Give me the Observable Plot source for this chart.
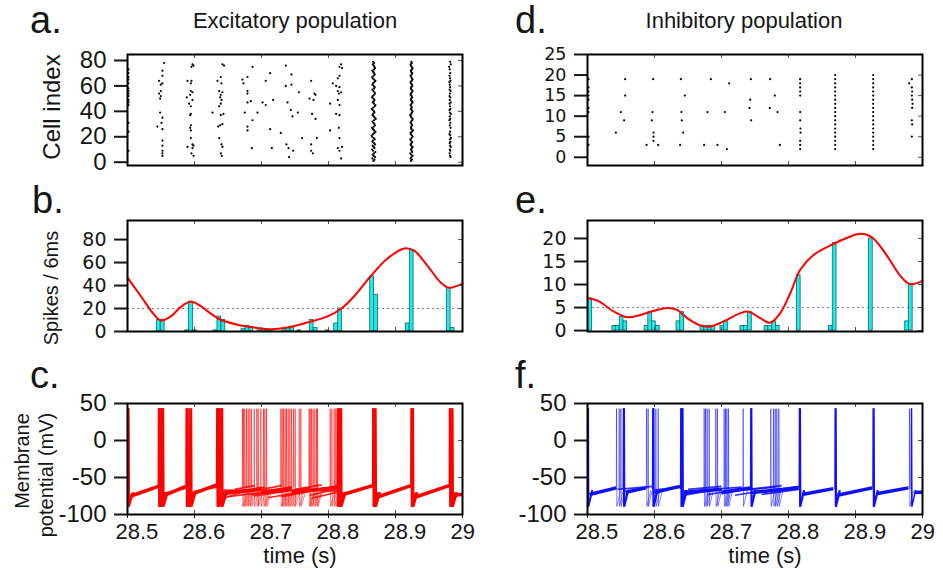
<!DOCTYPE html>
<html><head><meta charset="utf-8">
<script src="https://cdn.jsdelivr.net/npm/d3@7"></script>
<script src="https://cdn.jsdelivr.net/npm/@observablehq/plot@0.6"></script>
<style>
body{margin:0;background:#fff;}
#fig{position:relative;width:943px;height:570px;overflow:hidden;background:#fff;font-family:"Liberation Sans",Arial,Helvetica,sans-serif;color:#161616}
.t{position:absolute;white-space:nowrap;line-height:1}
</style></head><body><div id="fig"></div>
<script>
// ---------- DATA ----------
const timeTicks = [28.5, 28.6, 28.7, 28.8, 28.9, 29];
const innerTimeTicks = [28.6, 28.7, 28.8, 28.9];

// a. Excitatory raster: scattered spikes [time (s), cell index]
const excScatter = [
  [28.5015,73],[28.5015,70],[28.5015,67],[28.5015,65],[28.5015,62],[28.5015,58],[28.5015,56],[28.5015,54],[28.5015,52],[28.5015,49],[28.5015,47],[28.5015,45],[28.5015,31],[28.5015,24],[28.5015,9],
  [28.5547,78],[28.5522,72],[28.5522,68],[28.5472,64],[28.5522,62],[28.5497,61],[28.5497,56],[28.5472,54],[28.5497,52],[28.5487,50],[28.5487,39],[28.5522,35],[28.5507,31],[28.5447,28],[28.5522,26],[28.5522,17],[28.5522,13],[28.5522,9],[28.5522,7],[28.5522,5],
  [28.5970,77],[28.5985,76],[28.5955,75],[28.5895,64],[28.5955,64],[28.5945,62],[28.5945,56],[28.5970,55],[28.5935,53],[28.5885,51],[28.5970,49],[28.5920,46],[28.5945,44],[28.5945,38],[28.5935,37],[28.5945,29],[28.5935,27],[28.5945,25],[28.5945,19],[28.5970,14],[28.5985,13],[28.5895,12],[28.5970,11],[28.5955,7],[28.5985,5],
  [28.6417,77],[28.6442,76],[28.6393,67],[28.6343,64],[28.6403,62],[28.6368,56],[28.6417,55],[28.6393,53],[28.6383,51],[28.6403,49],[28.6393,46],[28.6368,44],[28.6268,39],[28.6432,38],[28.6393,37],[28.6417,30],[28.6383,29],[28.6353,28],[28.6368,19],[28.6403,14],[28.6417,12],[28.6393,7],[28.6407,5],
  [28.6866,75],[28.6791,67],[28.6716,65],[28.6731,62],[28.7129,70],[28.7064,64],[28.6791,56],[28.6791,54],[28.6840,48],[28.6791,47],[28.7015,47],[28.7064,45],[28.7174,49],[28.6751,39],[28.6940,39],[28.6866,33],[28.6791,28],[28.6791,25],[28.7129,26],[28.6855,11],[28.7154,11],
  [28.7363,76],[28.7447,69],[28.7447,61],[28.7363,60],[28.7388,47],[28.7437,41],[28.7463,36],[28.7288,23],[28.7373,14],[28.7403,11],[28.7472,9],[28.7412,4],
  [28.7557,55],[28.7741,64],[28.7716,50],[28.7791,54],[28.7806,53],[28.7776,49],[28.7542,39],[28.7755,38],[28.7806,34],[28.7606,19],[28.7741,14],[28.7826,19],[28.7741,9],[28.7766,7],
  [28.8188,77],[28.8164,75],[28.8203,74],[28.8139,66],[28.8164,68],[28.8064,62],[28.8114,60],[28.8164,59],[28.8139,56],[28.8154,54],[28.8188,55],[28.8024,46],[28.8139,49],[28.8164,45],[28.8114,38],[28.8164,37],[28.8154,27],[28.8024,25],[28.8164,19],[28.8203,12],[28.8139,11],[28.8164,9],[28.8188,3]
];
// synchronous volleys: spike-time offsets (ms) for cells 1..79
const excVolley1Base = 28.8635;
const excVolley1Ms = [3.5,5.0,2.0,6.0,4.0,2.5,4.5,6.5,3.0,1.5,5.0,4.0,2.5,6.0,4.5,2.0,3.0,5.5,4.0,1.5,1.0,3.0,5.0,6.5,4.5,3.0,1.5,4.0,6.0,5.0,3.5,2.0,4.5,7.0,5.5,4.0,2.0,3.0,5.0,4.5,2.5,1.0,3.5,5.5,6.5,4.5,2.5,4.0,5.0,3.5,1.5,2.5,4.5,6.0,5.0,3.5,2.0,4.5,5.5,4.0,2.0,3.0,5.0,6.5,4.5,2.5,1.5,4.0,5.5,4.5,3.5,2.0,4.5,6.0,5.0,4.0,2.5,4.5,3.0];
const excVolley2Base = 28.921;
const excVolley2Ms = [2.0,3.5,1.5,3.0,4.5,2.5,1.0,4.0,3.0,2.0,3.5,4.5,2.5,1.5,3.0,4.0,2.0,1.0,3.0,4.5,3.5,2.0,1.5,3.5,5.0,3.0,2.0,2.5,4.0,3.0,1.5,2.5,4.0,4.5,3.0,2.0,1.0,2.5,3.5,4.5,3.0,2.0,3.5,2.5,1.5,3.0,4.5,3.5,2.0,2.5,4.0,3.0,1.5,2.0,3.5,4.5,3.0,2.0,2.5,4.0,3.5,2.0,1.5,3.0,4.5,3.5,2.5,1.5,3.0,4.0,2.5,2.0,3.5,4.5,3.0,2.0,1.5,3.5,2.5];
const excVolley3Base = 28.978;
const excVolley3 = [[79,3.5],[77,4.5],[75,2.0],[73,3.0],[70,3.8],[68,2.6],[66,3.4],[64,4.0],[63,2.4],[61,3.0],[59,3.6],[57,2.8],[56,4.2],[54,3.2],[52,2.6],[51,3.8],[49,3.0],[47,4.4],[46,2.8],[44,3.4],[42,4.0],[41,2.6],[39,3.2],[38,4.6],[36,3.0],[34,3.6],[33,2.4],[31,3.8],[29,3.0],[27,4.2],[24,3.4],[22,2.6],[21,3.8],[19,4.8],[18,3.2],[16,4.0],[15,2.8],[13,3.6],[12,4.4],[10,3.0],[9,3.8],[7,2.8],[5,3.4],[4,4.2]];

// d. Inhibitory raster
const inhScatter = [
  [28.5015,19],[28.5015,17],[28.5015,16],[28.5015,15],[28.5015,14],[28.5015,12],[28.5015,11],[28.5015,5],[28.5015,3],
  [28.5562,19],[28.5562,15],[28.5498,11],[28.5547,9],[28.5423,6],
  [28.5980,19],[28.5970,11],[28.5960,9],[28.5985,6],[28.5985,5],[28.5985,4],[28.5881,3],[28.6055,3],
  [28.6393,19],[28.6453,15],[28.6403,11],[28.6408,9],[28.6428,6],[28.6383,3],
  [28.6841,19],[28.7114,18],[28.6791,11],[28.7050,11],[28.6741,3],[28.6940,3],[28.7080,2],
  [28.7438,19],[28.7726,19],[28.7428,14],[28.7796,15],[28.7418,12],[28.7721,12],[28.7836,11],[28.7443,9],[28.7871,3],
  [28.8174,19],[28.8174,18],[28.8174,17],[28.8174,16],[28.8174,15],[28.8174,11],[28.8174,9],[28.8179,7],[28.8179,6],[28.8174,4],[28.8174,3],[28.8174,2],
  [28.9841,19],[28.9801,18],[28.9841,17],[28.9846,16],[28.9841,15],[28.9846,14],[28.9851,13],[28.9846,12],[28.9841,9],[28.9846,8],[28.9841,5]
];
const inhVolleyCells = [2,3,4,5,6,7,8,9,10,11,12,13,14,15,16,17,18,19,20];
const inhVolleyTimes = [28.8697, 28.9264];

// b. / e. Histograms (bin start time, spikes per 6 ms) and smoothed rate
const excHistT = [28.5438,28.5498,28.5861,28.5920,28.5980,28.6284,28.6343,28.6403,28.6701,28.6761,28.6820,28.6940,28.7000,28.7060,28.7120,28.7313,28.7373,28.7433,28.7537,28.7721,28.7780,28.7960,28.8085,28.8144,28.8622,28.8682,28.9154,28.9214,28.9766,28.9826];
const excHistN = [10,10,1,26,1,1,13,10,2,5,4,1,2,2,1,2,3,4,1,10,3,1,7,20,48,32,7,71,38,3];
const excRateT = [28.5,28.52,28.5398,28.5498,28.5647,28.5796,28.5945,28.6095,28.6244,28.6393,28.6642,28.689,28.714,28.7388,28.7687,28.7985,28.8184,28.8383,28.8632,28.888,28.913,28.9279,28.9478,28.9677,28.98,29.0];
const excRateV = [46.9,30.7,14.6,9.7,13.2,21.4,25.8,22,15.5,10.2,5.9,3.5,2.0,3.5,7.9,13.2,19.6,30.7,48.3,63.5,72.3,70.3,57.1,42.5,38.1,41.6];
const excThreshold = 20;

const inhHistT = [28.5010,28.5372,28.5422,28.5481,28.5536,28.5853,28.5908,28.5962,28.6022,28.6329,28.6384,28.6687,28.6741,28.6796,28.6850,28.6984,28.7039,28.7282,28.7336,28.7396,28.7644,28.7698,28.7758,28.7812,28.8125,28.8601,28.8661,28.9201,28.9742,28.9797];
const inhHistN = [7,1,1,3,2,1,4,2,1,2,4,1,1,1,1,1,2,1,1,4,1,1,2,1,12,1,19,20,2,10];
const inhRateT = [28.5,28.5149,28.5397,28.5595,28.5794,28.5992,28.619,28.6339,28.6488,28.6687,28.6835,28.7034,28.7282,28.7406,28.7579,28.7728,28.7877,28.8026,28.8175,28.8373,28.8671,28.8869,28.9067,28.9241,28.9464,28.9663,28.9812,29.0];
const inhRateV = [7.0,6.5,4.1,2.9,3.4,4.3,4.9,4.5,2.7,1.1,0.9,2.0,3.8,4.1,2.7,1.7,3.8,8.1,13.2,16.4,18.8,20.1,21.0,20.3,16.4,12.0,10.1,10.8];
const inhThreshold = 5;

// c. / f. Membrane potential: sub-threshold ramps [t0, v0, t1, v1] and spike times
const excMainRamps = [[28.502,-76,28.546,-62],[28.555,-74,28.587,-62],[28.597,-72,28.633,-60],[28.643,-71,28.700,-66],[28.700,-70,28.745,-64],[28.745,-70,28.815,-63],[28.818,-74,28.866,-61],[28.871,-77,28.923,-61],[28.928,-77,28.980,-61],[28.987,-74,29.0,-73]];
const excBandRamps = [[28.555,-71,28.590,-64],[28.598,-69,28.634,-63],[28.643,-74,28.700,-63],[28.650,-76,28.735,-66],[28.672,-70,28.705,-63],[28.685,-74,28.745,-63],[28.705,-72,28.772,-64],[28.710,-77,28.790,-66],[28.745,-71,28.815,-62],[28.772,-74,28.815,-65],[28.643,-67,28.815,-68],[28.643,-78,28.672,-70],[28.660,-66,28.690,-61],[28.690,-75,28.740,-68],[28.700,-66,28.730,-61],[28.730,-76,28.770,-69],[28.750,-66,28.790,-60],[28.775,-78,28.812,-70],[28.790,-68,28.815,-60]];
const excSyncSpikes = [28.5005,28.5012,28.5020,28.5463,28.5472,28.5483,28.5498,28.5510,28.5522,28.5537,28.5876,28.5888,28.5900,28.5920,28.5935,28.5955,28.6333,28.6345,28.6358,28.6373,28.6393,28.6405,28.6418,28.8134,28.8146,28.8158,28.8170,28.8182,28.8194,28.8662,28.8672,28.8684,28.8696,28.8708,28.9232,28.9242,28.9254,28.9266,28.9806,28.9818,28.9830,28.9842,28.9856];
const excSparseSpikes = [28.6716,28.6731,28.6751,28.6776,28.6801,28.6826,28.6851,28.6891,28.6930,28.6950,28.6990,28.7030,28.7050,28.7075,28.7289,28.7308,28.7328,28.7353,28.7373,28.7398,28.7423,28.7448,28.7478,28.7502,28.7562,28.7587,28.7711,28.7726,28.7746,28.7771,28.7796,28.7821,28.7836,28.8025,28.8050,28.8085,28.8109];
const excSpikeDt = [-0.0003, 0, 0.0006, 0.0065];
const excSpikeV = [-63, 43, -89, -71];

const inhMainRamps = [[28.503,-73,28.543,-64],[28.557,-70,28.587,-64],[28.600,-70,28.638,-62],[28.645,-70,28.700,-66],[28.700,-70,28.743,-64],[28.747,-70,28.815,-64],[28.820,-73,28.867,-65],[28.873,-74,28.925,-64],[28.931,-72,28.979,-64],[28.988,-70,29.0,-70]];
const inhBandRamps = [[28.545,-66,28.598,-62],[28.600,-67,28.640,-63],[28.645,-72,28.700,-66],[28.660,-68,28.730,-63],[28.700,-72,28.745,-65],[28.710,-69,28.780,-63],[28.745,-71,28.815,-65],[28.760,-70,28.815,-62],[28.645,-74,28.680,-68],[28.680,-73,28.720,-67],[28.720,-74,28.760,-68],[28.760,-73,28.815,-66],[28.650,-66,28.700,-62],[28.740,-66,28.790,-61]];
const inhSyncSpikes = [28.5005,28.5012,28.5537,28.5549,28.5975,28.5988,28.6393,28.6403,28.6413,28.6423,28.7438,28.7450,28.8164,28.8176,28.8697,28.8709,28.9264,28.9276,28.9836];
const inhSparseSpikes = [28.5433,28.5473,28.5498,28.5881,28.5905,28.6020,28.6055,28.6741,28.6761,28.6786,28.6816,28.6915,28.6940,28.7040,28.7060,28.7080,28.7104,28.7323,28.7736,28.7776,28.7801,28.7826,28.7856,28.9806];
const inhSpikeDt = [-0.0003, 0, 0.0005, 0.006];
const inhSpikeV = [-65, 43, -89, -68];

// ---------- BUILD ----------
const RED = "#ff0000", BLUE = "#1010ff", CYAN = "#14f0f0";
const FONT = "'Liberation Sans', Arial, Helvetica, sans-serif";
const WIDE = "'DejaVu Sans', sans-serif";
const fig = document.getElementById("fig");

const excRaster = [
  ...excScatter.map(([t, c]) => ({t, c})),
  ...excVolley1Ms.map((ms, i) => ({t: excVolley1Base + ms / 1000, c: i + 1})),
  ...excVolley2Ms.map((ms, i) => ({t: excVolley2Base + ms / 1000, c: i + 1})),
  ...excVolley3.map(([c, ms]) => ({t: excVolley3Base + ms / 1000, c}))
];
const inhRaster = [
  ...inhScatter.map(([t, c]) => ({t, c})),
  ...inhVolleyTimes.flatMap(t => inhVolleyCells.map(c => ({t, c})))
];
const hist = (T, N) => T.map((t, i) => ({t, n: N[i]}));
const rate = (T, V) => T.map((t, i) => ({t, v: V[i]}));
function spikes(times, dts, vs, prefix) {
  const out = [];
  times.forEach((t, i) => dts.forEach((dt, j) => out.push({id: prefix + i, t: t + dt, v: vs[j]})));
  return out;
}

function panel(o) {
  const fw = o.width - o.ml - o.mr, fh = o.height - o.mt - o.mb;
  const marks = [
    ...o.marks,
    Plot.tickX(innerTimeTicks, {x: d => d, insetBottom: fh - 4, stroke: "#555", strokeWidth: 1}),
    Plot.tickX(innerTimeTicks, {x: d => d, insetTop: fh - 4, stroke: "#555", strokeWidth: 1}),
    Plot.tickY(o.yTicks, {y: d => d, insetLeft: fw - 4, stroke: "#555", strokeWidth: 1}),
    Plot.frame({stroke: "#000", strokeWidth: 2}),
    Plot.axisY({ticks: o.yTicks, tickSize: 13, tickPadding: 8, fontSize: o.yFontSize || 24, fontFamily: o.yFont || FONT, strokeWidth: 2, tickFormat: d => String(d), label: null})
  ];
  if (o.xAxis) {
    marks.push(Plot.axisX({ticks: timeTicks, tickSize: 4, fill: "none", label: null}));
    marks.push(Plot.axisX({ticks: timeTicks, tickSize: 4, tickPadding: 5, stroke: "none", fontSize: 22, textAnchor: "start", dx: -12, tickFormat: d => String(d), label: null}));
  }
  (o.labels || []).forEach(l => marks.push(Plot.text([l.text], {frameAnchor: "left", textAnchor: "middle", rotate: -90, dx: l.dx, dy: l.dy, fontSize: l.size, fill: "#161616"})));
  const svg = Plot.plot({
    width: o.width, height: o.height,
    marginTop: o.mt, marginRight: o.mr, marginBottom: o.mb, marginLeft: o.ml,
    x: {domain: [28.5, 29], axis: null},
    y: {domain: o.yDomain, axis: null},
    style: {fontFamily: FONT, color: "#161616", background: "transparent", overflow: "visible"},
    marks
  });
  svg.style.position = "absolute";
  svg.style.left = o.left + "px";
  svg.style.top = o.top + "px";
  fig.appendChild(svg);
}

const L = {left: 0, width: 470, ml: 127, mr: 8};
const R = {left: 470, width: 473, ml: 117, mr: 21};
const row1 = {top: 0, height: 170, mt: 54, mb: 5};
const row2 = {top: 172, height: 165, mt: 48, mb: 6};
const row3 = {top: 340, height: 230, mt: 63, mb: 56};

const rasterMarks = data => [Plot.dot(data, {x: "t", y: "c", r: 1.1, fill: "#000", stroke: "none"})];
const histMarks = (h, r, thr) => [
  Plot.ruleY([thr], {stroke: "#808080", strokeWidth: 1, strokeDasharray: "2,3"}),
  Plot.rect(h, {x1: "t", x2: d => d.t + 0.0056, y1: 0, y2: "n", fill: CYAN, stroke: "#1f6060", strokeWidth: 0.8}),
  Plot.line(r, {x: "t", y: "v", curve: "catmull-rom", stroke: RED, strokeWidth: 2})
];
const traceMarks = (main, band, sync, sparse, dts, vs, color) => [
  Plot.link(band, {x1: d => d[0], y1: d => d[1], x2: d => d[2], y2: d => d[3], stroke: color, strokeWidth: 1.7, strokeOpacity: 0.85, clip: true}),
  Plot.link(main, {x1: d => d[0], y1: d => d[1], x2: d => d[2], y2: d => d[3], stroke: color, strokeWidth: 3.5, clip: true}),
  Plot.line(spikes(sparse, dts, vs, "s"), {x: "t", y: "v", z: "id", stroke: color, strokeWidth: 0.8, strokeOpacity: 0.65, strokeLinejoin: "round", clip: true}),
  Plot.line(spikes(sync, dts, vs, "p"), {x: "t", y: "v", z: "id", stroke: color, strokeWidth: 1.5, strokeLinejoin: "round", clip: true})
];

// a.
panel({...L, ...row1, yDomain: [-2.6, 84.7], yTicks: [0, 20, 40, 60, 80], marks: rasterMarks(excRaster),
  labels: [{text: "Cell index", dx: -75, dy: -3, size: 24}]});
// d.
panel({...R, ...row1, yDomain: [-2, 25], yTicks: [0, 5, 10, 15, 20, 25], yFontSize: 17.5, yFont: WIDE, marks: rasterMarks(inhRaster)});
// b.
panel({...L, ...row2, yDomain: [0, 96.6], yTicks: [0, 20, 40, 60, 80], yFontSize: 19, yFont: WIDE, marks: histMarks(hist(excHistT, excHistN), rate(excRateT, excRateV), excThreshold),
  labels: [{text: "Spikes / 6ms", dx: -76, dy: 12, size: 20}]});
// e.
panel({...R, ...row2, yDomain: [-0.2, 23.9], yTicks: [0, 5, 10, 15, 20], yFontSize: 19, yFont: WIDE, marks: histMarks(hist(inhHistT, inhHistN), rate(inhRateT, inhRateV), inhThreshold)});
// c.
panel({...L, ...row3, yDomain: [-100, 50], yTicks: [-100, -50, 0, 50], xAxis: true,
  marks: traceMarks(excMainRamps, excBandRamps, excSyncSpikes, excSparseSpikes, excSpikeDt, excSpikeV, RED),
  labels: [{text: "Membrane", dx: -105, dy: 2, size: 20}, {text: "potential (mV)", dx: -81, dy: 16, size: 20}]});
// f.
panel({...R, ...row3, yDomain: [-100, 50], yTicks: [-100, -50, 0, 50], xAxis: true,
  marks: traceMarks(inhMainRamps, inhBandRamps, inhSyncSpikes, inhSparseSpikes, inhSpikeDt, inhSpikeV, BLUE)});

// titles, panel letters, x-axis titles
function addText(txt, x, baseline, size, center) {
  const d = document.createElement("div");
  d.className = "t";
  d.textContent = txt;
  d.style.fontSize = size + "px";
  d.style.left = x + "px";
  d.style.top = (baseline - 0.8465 * size) + "px";
  if (center) d.style.transform = "translateX(-50%)";
  fig.appendChild(d);
}
addText("a.", 30, 33, 38);
addText("d.", 515, 33, 38);
addText("b.", 32, 213, 38);
addText("e.", 515, 213, 38);
addText("c.", 30, 388, 38);
addText("f.", 515, 388, 38);
addText("Excitatory population", 295, 29, 22, true);
addText("Inhibitory population", 744, 29, 22, true);
addText("time (s)", 300, 564, 22, true);
addText("time (s)", 765, 564, 22, true);
</script></body></html>
